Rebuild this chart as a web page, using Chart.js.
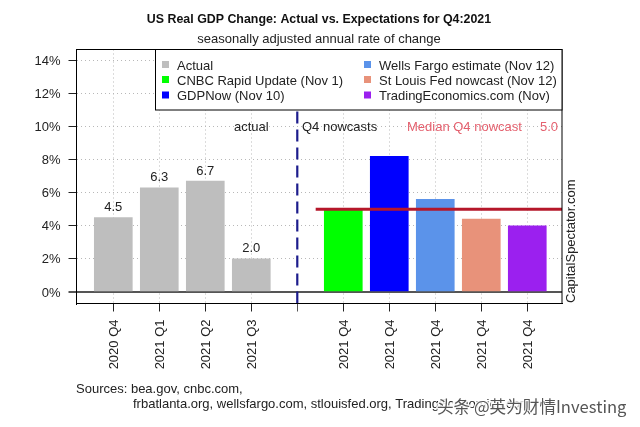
<!DOCTYPE html>
<html><head><meta charset="utf-8">
<style>html,body{margin:0;padding:0;background:#fff}#w{position:relative;width:640px;height:427px}</style>
<script src="https://cdn.jsdelivr.net/npm/chart.js@4"></script>
</head><body><div id="w"><canvas id="c" width="640" height="427"></canvas></div>
<script>
const actualPositions = [0, 1, 2, 3];
const actualLabels = ['2020 Q4', '2021 Q1', '2021 Q2', '2021 Q3'];
const actualValues = [4.5, 6.3, 6.7, 2.0];
const nowcastNames = ['CNBC Rapid Update (Nov 1)', 'GDPNow (Nov 10)', 'Wells Fargo estimate (Nov 12)', 'St Louis Fed nowcast (Nov 12)', 'TradingEconomics.com (Nov)'];
const nowcastPositions = [5, 6, 7, 8, 9];
const nowcastLabel = '2021 Q4';
const nowcastValues = [5.0, 8.2, 5.6, 4.4, 4.0];
const nowcastColors = ['#00ff00', '#0000ff', '#5b93ea', '#e8927a', '#9b20ef'];
const medianValue = 5.0;
const dividerPosition = 4;
const yTicks = [0, 2, 4, 6, 8, 10, 12, 14];
const FONT = '"Liberation Sans", Arial, sans-serif';
const INK = '#222';

const datasets = [
  { type: 'bar', label: 'Actual', data: actualPositions.map((x, i) => ({ x, y: actualValues[i] })),
    backgroundColor: '#bebebe', barThickness: 38, grouped: false, order: 3 },
  ...nowcastNames.map((n, i) => ({ type: 'bar', label: n,
    data: [{ x: nowcastPositions[i], y: nowcastValues[i] }],
    backgroundColor: nowcastColors[i], barThickness: 38, grouped: false, order: 3 })),
  { type: 'line', label: 'Median', data: [{ x: 4.4, y: medianValue }, { x: 9.755, y: medianValue }],
    borderColor: '#b5172a', borderWidth: 3, pointRadius: 0, order: 1 },
  { type: 'line', label: 'Divider', data: [{ x: dividerPosition, y: -0.695 }, { x: dividerPosition, y: 14.65 }],
    borderColor: '#1c1c8c', borderWidth: 2.2, borderDash: [12, 6], pointRadius: 0, order: 2 }
];

const annotate = {
  id: 'annotate',
  afterDatasetsDraw(chart) {
    const { ctx, scales: { x, y }, chartArea: a } = chart;
    const t = (s, px, py, font, col, al = 'left') => {
      ctx.font = font + ' ' + FONT; ctx.fillStyle = col; ctx.textAlign = al; ctx.textBaseline = 'middle';
      ctx.fillText(s, px, py + 1);
    };
    ctx.save();
    // value labels
    actualValues.forEach((v, i) => t(v.toFixed(1), x.getPixelForValue(actualPositions[i]), y.getPixelForValue(v) - 11, '13px', INK, 'center'));
    // panel notes
    t('actual', 234, 126.5, '13px', INK);
    t('Q4 nowcasts', 302, 126.5, '13px', INK);
    t('Median Q4 nowcast', 407, 126.5, '13px', '#e4606e');
    t(medianValue.toFixed(1), 540, 126.5, '13px', '#e4606e');
    // plot frame
    ctx.strokeStyle = '#000'; ctx.lineWidth = 1;
    ctx.strokeRect(a.left, a.top, a.right - a.left, a.bottom - a.top);
    // legend box
    ctx.fillStyle = '#fff'; ctx.fillRect(155.5, 49.5, a.right - 155.5, 60.5);
    ctx.strokeRect(155.5, 49.5, a.right - 155.5, 60.5);
    const names = ['Actual', ...nowcastNames];
    const cols = ['#bebebe', ...nowcastColors];
    const order = [[0, 162, 177, 65], [1, 162, 177, 80], [2, 162, 177, 95.5], [3, 364, 379, 65], [4, 364, 379, 80], [5, 364, 379, 95.5]];
    order.forEach(([i, sx, tx, ty]) => {
      ctx.fillStyle = cols[i]; ctx.fillRect(sx, ty - 4, 7, 7);
      t(names[i], tx, ty, '13px', INK);
    });
    // right margin text
    ctx.save(); ctx.translate(570, 303); ctx.rotate(-Math.PI / 2);
    t('CapitalSpectator.com', 0, 0, '13px', INK); ctx.restore();
    // title
    t('US Real GDP Change: Actual vs. Expectations for Q4:2021', 319, 19, 'bold 12.4px', '#111', 'center');
    t('seasonally adjusted annual rate of change', 319, 38.5, '13px', INK, 'center');
    // sources
    t('Sources: bea.gov, cnbc.com,', 76, 388.5, '13px', INK);
    t('frbatlanta.org, wellsfargo.com, stlouisfed.org, TradingEconomics.com', 133, 403.5, '13px', INK);
    // watermark
    ctx.font = '16.6px "Noto Sans CJK SC", ' + FONT; ctx.textAlign = 'left';
    ctx.lineWidth = 3; ctx.strokeStyle = 'rgba(255,255,255,.9)';
    ctx.strokeText('头条 @英为财情Investing', 437, 407);
    ctx.fillStyle = '#555'; ctx.fillText('头条 @英为财情Investing', 437, 407);
    ctx.restore();
  }
};

const isZero = c => c.tick && c.tick.value === 0;
const isDivider = c => c.tick && c.tick.value === dividerPosition;

new Chart(document.getElementById('c'), {
  data: { datasets },
  plugins: [annotate],
  options: {
    responsive: false, animation: false, devicePixelRatio: 1,
    layout: { padding: { top: 49.5, right: 78, left: 0, bottom: 0 } },
    plugins: { legend: { display: false }, tooltip: { enabled: false } },
    scales: {
      x: {
        type: 'linear', position: 'bottom', offset: false, min: -0.8, max: 9.755,
        afterFit(s) { s.height = 427 - 303.5; },
        afterBuildTicks(s) { s.ticks = [...actualPositions, dividerPosition, ...nowcastPositions].map(value => ({ value })); },
        border: { color: '#000', width: 1, dash: [1, 3] },
        grid: {
          offset: false,
          color: c => isDivider(c) ? 'rgba(0,0,0,0)' : '#b8b8b8',
          tickColor: c => isDivider(c) ? '#555' : '#222',
          lineWidth: 1, tickBorderDash: [], tickLength: 8
        },
        ticks: {
          autoSkip: false, maxRotation: 90, minRotation: 90, padding: 8, labelOffset: 1.5,
          color: INK, font: { family: FONT, size: 13 },
          callback(v) {
            const a = actualPositions.indexOf(v);
            if (a >= 0) return actualLabels[a];
            return nowcastPositions.includes(v) ? nowcastLabel : '';
          }
        }
      },
      y: {
        min: -0.695, max: 14.65,
        afterFit(s) { s.width = 76.5; },
        afterBuildTicks(s) { s.ticks = yTicks.map(value => ({ value })); },
        border: { color: '#000', width: 1, dash: c => isZero(c) ? [] : [1, 3] },
        grid: {
          color: c => isZero(c) ? '#555' : '#b8b8b8',
          tickColor: c => isZero(c) ? '#555' : '#222',
          lineWidth: c => isZero(c) ? 2 : 1,
          tickBorderDash: [], tickLength: 8
        },
        ticks: { padding: 8, labelOffset: 1, color: INK, font: { family: FONT, size: 13 }, callback: v => v + '%' }
      }
    }
  }
});
</script></body></html>
